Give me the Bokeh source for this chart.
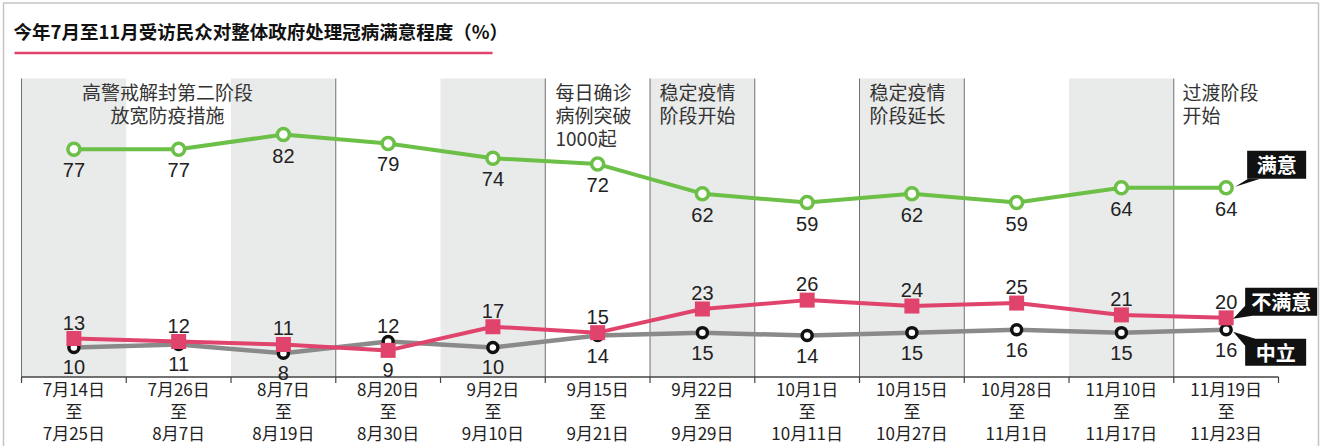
from bokeh.plotting import figure
from bokeh.models import Range1d
from bokeh.core.properties import value
from bokeh.embed import file_html
from bokeh.resources import INLINE

# ---------------- data ----------------
title_text = "今年7月至11月受访民众对整体政府处理冠病满意程度（%）"
period_start = ["7月14日", "7月26日", "8月7日", "8月20日", "9月2日", "9月15日",
                "9月22日", "10月1日", "10月15日", "10月28日", "11月10日", "11月19日"]
period_end = ["7月25日", "8月7日", "8月19日", "8月30日", "9月10日", "9月21日",
              "9月29日", "10月11日", "10月27日", "11月1日", "11月17日", "11月23日"]
satisfied = [77, 77, 82, 79, 74, 72, 62, 59, 62, 59, 64, 64]
dissatisfied = [13, 12, 11, 9, 17, 15, 23, 26, 24, 25, 21, 20]
neutral = [10, 11, 8, 12, 10, 14, 15, 14, 15, 16, 15, 16]
series_names = ["满意", "不满意", "中立"]
shaded_periods = [0, 2, 4, 6, 8, 10]
phase_break_periods = [0, 3, 5, 6, 7, 8, 9, 11]
phase_notes = [["高警戒解封第二阶段", "放宽防疫措施"],
               ["每日确诊", "病例突破", "1000起"],
               ["稳定疫情", "阶段开始"],
               ["稳定疫情", "阶段延长"],
               ["过渡阶段", "开始"]]

# ---------------- layout ----------------
W, H = 1322, 446
COL = 104.75      # px per period
X0PX = 73.4       # pixel x of first period centre
YPX = 2.957       # px per percent
Y0PX = 376.5      # pixel y of 0 %


def X(px):
    return (px - X0PX) / COL


def Y(py):
    return (Y0PX - py) / YPX


GREEN = "#6cbf47"
RED = "#e0446c"
GRAY = "#8a8a8a"
DARK = "#222222"
CJK = value("Noto Sans CJK SC")
NUM = value("Liberation Sans")

p = figure(width=W, height=H, x_range=Range1d(X(0), X(W)), y_range=Range1d(Y(H), Y(0)),
           output_backend="svg", toolbar_location=None, min_border=0,
           x_axis_location=None, y_axis_location=None, outline_line_color=None)
p.grid.grid_line_color = None
p.background_fill_color = "white"
p.border_fill_color = "white"

idx = list(range(len(satisfied)))

# page border
p.quad(left=[X(3)], right=[X(1318)], top=[Y(2.5)], bottom=[Y(470)],
       fill_color=None, line_color="#c4c4c4", line_width=1.5)

# title
p.text(x=[X(13)], y=[Y(30)], text=[title_text], text_font=CJK, text_font_style="bold",
       text_font_size="18.5px", text_color="#111111", text_align="left", text_baseline="middle")
p.segment(x0=[X(14)], y0=[Y(52.5)], x1=[X(492)], y1=[Y(52.5)], line_color=RED, line_width=2.5)

top_val = Y(78)
# shaded periods
p.quad(left=[i - 0.5 for i in shaded_periods], right=[i + 0.5 for i in shaded_periods],
       bottom=0, top=top_val, fill_color="#e9eaea", line_color=None)
# phase lines
p.segment(x0=[b - 0.5 for b in phase_break_periods], y0=0,
          x1=[b - 0.5 for b in phase_break_periods], y1=top_val,
          line_color="#707070", line_width=1)

# axis line and ticks
p.segment(x0=[-0.5], y0=[0], x1=[len(idx) - 0.5], y1=[0], line_color="#444444", line_width=1.3)
bounds = [i - 0.5 for i in range(len(idx) + 1)]
p.segment(x0=bounds, y0=0, x1=bounds, y1=-6 / YPX, line_color="#444444", line_width=1.2)

# axis labels
for txt, off in ((period_start, 11), (["至"] * len(idx), 33.5), (period_end, 55.5)):
    p.text(x=idx, y=[0] * len(idx), text=txt, y_offset=off, text_font=CJK,
           text_font_size="17px", text_color=DARK, text_align="center", text_baseline="middle")

# phase notes
note_pos = [(167, "center"), (555, "left"), (659, "left"), (869, "left"), (1182, "left")]
for lines, (px, al) in zip(phase_notes, note_pos):
    for k, ln in enumerate(lines):
        p.text(x=[X(px)], y=[Y(91 + 23 * k)], text=[ln], text_font=CJK, text_font_size="19px",
               text_color="#333333", text_align=al, text_baseline="middle")

# neutral series
p.line(idx, neutral, line_color=GRAY, line_width=4.5)
p.scatter(idx, neutral, marker="circle", size=10, fill_color="white",
          line_color="#111111", line_width=3.5)
# dissatisfied series
p.line(idx, dissatisfied, line_color=RED, line_width=4)
p.scatter(idx, dissatisfied, marker="square", size=15, fill_color=RED, line_color=None)
# satisfied series
p.line(idx, satisfied, line_color=GREEN, line_width=4)
p.scatter(idx, satisfied, marker="circle", size=12, fill_color="white",
          line_color=GREEN, line_width=3.5)

# value labels
p.text(x=idx, y=satisfied, text=[str(v) for v in satisfied], y_offset=21, text_font=NUM,
       text_font_size="20px", text_color=DARK, text_align="center", text_baseline="middle")
red_off = [-16 if d >= n else 20 for d, n in zip(dissatisfied, neutral)]
gray_off = [20 if d >= n else -16 for d, n in zip(dissatisfied, neutral)]
for i in idx:
    p.text(x=[i], y=[dissatisfied[i]], text=[str(dissatisfied[i])], y_offset=red_off[i],
           text_font=NUM, text_font_size="20px", text_color=DARK, text_align="center",
           text_baseline="middle")
    p.text(x=[i], y=[neutral[i]], text=[str(neutral[i])], y_offset=gray_off[i],
           text_font=NUM, text_font_size="20px", text_color=DARK, text_align="center",
           text_baseline="middle")


# callouts
def callout(ix, iv, label, box, tail):
    l, r, t, b = box
    p.quad(left=[ix + l / COL], right=[ix + r / COL], top=[iv - t / YPX], bottom=[iv - b / YPX],
           fill_color="#111111", line_color=None)
    p.patch([ix + tx / COL for tx, ty in tail], [iv - ty / YPX for tx, ty in tail],
            fill_color="#111111", line_color=None)
    p.text(x=[ix + (l + r) / 2 / COL], y=[iv - (t + b) / 2 / YPX], text=[label], text_font=CJK,
           text_font_style="bold", text_font_size="20px", text_color="white",
           text_align="center", text_baseline="middle")


last = len(idx) - 1
callout(last, satisfied[last], series_names[0], (21, 80, -37, -9), [(22, -9), (34, -9), (9, -1)])
callout(last, dissatisfied[last], series_names[1], (19, 91, -30, -2), [(19, -12), (26, -2), (7, 1)])
callout(last, neutral[last], series_names[2], (19, 80, 9, 36), [(19, 16), (29, 9), (7, 2)])

open("out.html", "w").write(file_html(p, INLINE))
